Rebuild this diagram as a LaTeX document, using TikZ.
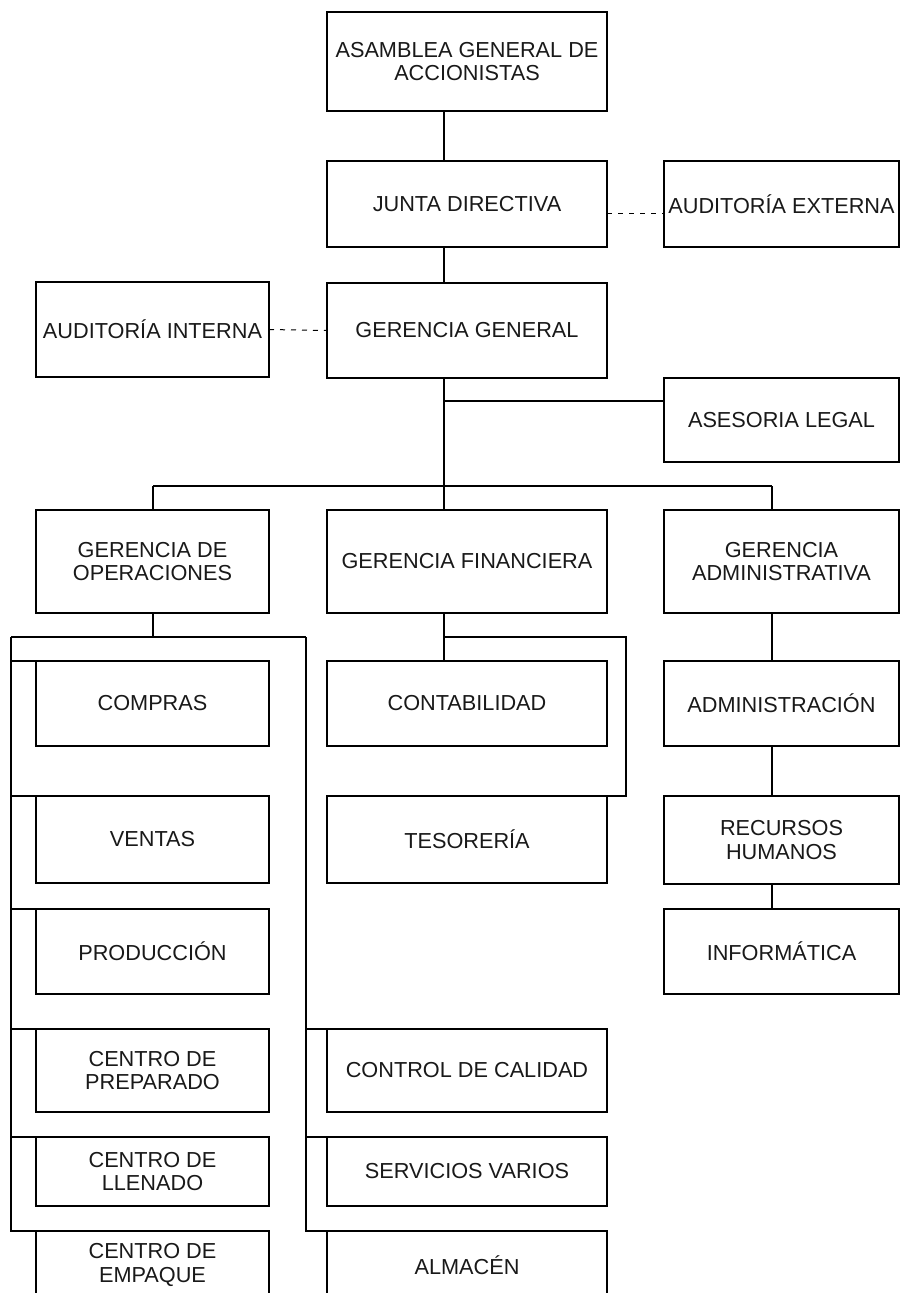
\documentclass[tikz,border=0pt]{standalone}
\usepackage{fontspec}
\setmainfont{Liberation Sans}
\tikzset{
  orgbox/.style={draw, line width=1.8pt, rectangle, inner sep=0pt, outer sep=0pt,
    align=center, font=\fontsize{21.7pt}{23.5pt}\selectfont, text=black!90},
  conn/.style={line width=1.6pt},
  dashlink/.style={line width=1pt, dash pattern=on 5pt off 6pt},
}
\newcommand\orgnode[6]{%
  \node[orgbox, minimum width={(#4-#2)*1pt}, minimum height={(#5-#3)*1pt}]
    (#1) at ({(#2+#4)/2},{(#3+#5)/2}) {#6};}
\begin{document}
\begin{tikzpicture}[x=1pt,y=-1pt]
\useasboundingbox (0,0) rectangle (907,1293);
\clip (0,0) rectangle (907,1293);
\fill[white] (0,0) rectangle (907,1293);

\orgnode{asam}{327}{12}{607}{111}{ASAMBLEA GENERAL DE\\ACCIONISTAS}
\orgnode{junta}{327}{161}{607}{247}{JUNTA DIRECTIVA}
\orgnode{audext}{664}{161}{899}{247}{AUDITORÍA EXTERNA}
\orgnode{audint}{36}{282}{269}{377}{AUDITORÍA INTERNA}
\orgnode{gg}{327}{283}{607}{378}{GERENCIA GENERAL}
\orgnode{ases}{664}{378}{899}{462}{ASESORIA LEGAL}
\orgnode{gop}{36}{510}{269}{613}{GERENCIA DE\\OPERACIONES}
\orgnode{gfin}{327}{510}{607}{613}{GERENCIA FINANCIERA}
\orgnode{gadm}{664}{510}{899}{613}{GERENCIA\\ADMINISTRATIVA}
\orgnode{compras}{36}{661}{269}{746}{COMPRAS}
\orgnode{cont}{327}{661}{607}{746}{CONTABILIDAD}
\orgnode{admon}{664}{661}{899}{746}{ADMINISTRACIÓN}
\orgnode{ventas}{36}{796}{269}{883}{VENTAS}
\orgnode{teso}{327}{796}{607}{883}{TESORERÍA}
\orgnode{rrhh}{664}{796}{899}{884}{RECURSOS\\HUMANOS}
\orgnode{prod}{36}{909}{269}{994}{PRODUCCIÓN}
\orgnode{info}{664}{909}{899}{994}{INFORMÁTICA}
\orgnode{prep}{36}{1029}{269}{1112}{CENTRO DE\\PREPARADO}
\orgnode{calidad}{327}{1029}{607}{1112}{CONTROL DE CALIDAD}
\orgnode{llen}{36}{1137}{269}{1206}{CENTRO DE\\LLENADO}
\orgnode{serv}{327}{1137}{607}{1206}{SERVICIOS VARIOS}
\orgnode{emp}{36}{1231}{269}{1299}{CENTRO DE\\EMPAQUE}
\orgnode{alm}{327}{1231}{607}{1299}{ALMACÉN}

\coordinate (mx) at (444,0);
\coordinate (rx) at (772,0);
\coordinate (lx) at (153,0);
\coordinate (asl) at (444,401);
\coordinate (busL) at (153,486);
\coordinate (busR) at (772,486);
\coordinate (opL) at (11,637);
\coordinate (opR) at (306,637);
\coordinate (fR) at (626,637);

% top chain
\draw[conn] (asam.south -| mx) -- (junta.north -| mx);
\draw[conn] (junta.south -| mx) -- (gg.north -| mx);
\draw[conn] (gg.south -| mx) -- (busL -| mx);
\draw[conn] (asl) -- (asl -| ases.west);
\draw[conn] (busL) -- (busR);
\draw[conn] (busL) -- (gop.north -| busL);
\draw[conn] (busL -| mx) -- (gfin.north -| mx);
\draw[conn] (busR) -- (gadm.north -| busR);

% dashed links
\draw[dashlink] ([yshift=-9pt]junta.east) -- ([yshift=-9pt]audext.west);
\draw[dashlink] (audint.east) -- (gg.west);

% operations
\draw[conn] (gop.south -| lx) -- (opL -| lx);
\draw[conn] (opL) -- (opR);
\draw[conn] (opL) |- (emp.north west);
\draw[conn] (opL |- compras.north west) -- (compras.north west);
\draw[conn] (opL |- ventas.north west) -- (ventas.north west);
\draw[conn] (opL |- prod.north west) -- (prod.north west);
\draw[conn] (opL |- prep.north west) -- (prep.north west);
\draw[conn] (opL |- llen.north west) -- (llen.north west);
\draw[conn] (opR) |- (alm.north west);
\draw[conn] (opR |- calidad.north west) -- (calidad.north west);
\draw[conn] (opR |- serv.north west) -- (serv.north west);

% finance
\draw[conn] (gfin.south -| mx) -- (cont.north -| mx);
\draw[conn] (fR -| mx) -- (fR) |- (teso.north east);

% administration
\draw[conn] (gadm.south -| rx) -- (admon.north -| rx);
\draw[conn] (admon.south -| rx) -- (rrhh.north -| rx);
\draw[conn] (rrhh.south -| rx) -- (info.north -| rx);
\end{tikzpicture}
\end{document}
